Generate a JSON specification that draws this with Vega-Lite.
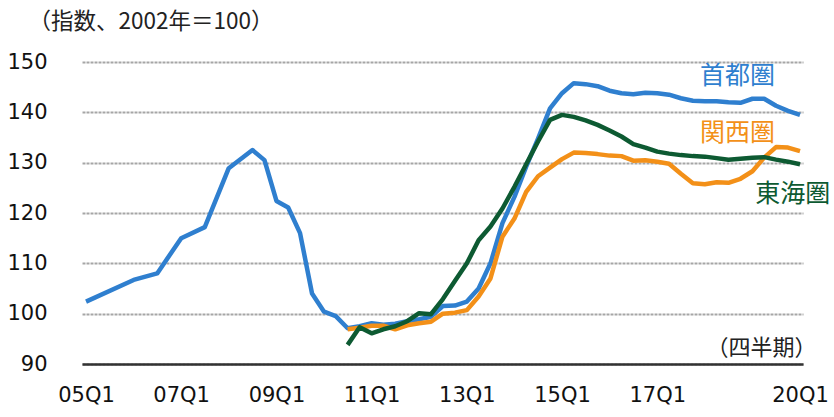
{
  "$schema": "https://vega.github.io/schema/vega-lite/v6.json",
  "width": 721,
  "height": 302,
  "autosize": "none",
  "padding": {"left": 82, "top": 62, "right": 31, "bottom": 53},
  "background": "white",
  "config": {"view": {"stroke": null}},
  "datasets": {
    "series": [
      {"region": "首都圏", "date": "2005-01-01", "value": 102.4},
      {"region": "首都圏", "date": "2006-01-01", "value": 106.7},
      {"region": "首都圏", "date": "2006-07-01", "value": 108.0},
      {"region": "首都圏", "date": "2007-01-01", "value": 115.0},
      {"region": "首都圏", "date": "2007-07-01", "value": 117.2},
      {"region": "首都圏", "date": "2008-01-01", "value": 128.9},
      {"region": "首都圏", "date": "2008-07-01", "value": 132.5},
      {"region": "首都圏", "date": "2008-10-01", "value": 130.5},
      {"region": "首都圏", "date": "2009-01-01", "value": 122.4},
      {"region": "首都圏", "date": "2009-04-01", "value": 121.1},
      {"region": "首都圏", "date": "2009-07-01", "value": 116.0},
      {"region": "首都圏", "date": "2009-10-01", "value": 104.0},
      {"region": "首都圏", "date": "2010-01-01", "value": 100.4},
      {"region": "首都圏", "date": "2010-04-01", "value": 99.5},
      {"region": "首都圏", "date": "2010-07-01", "value": 97.1},
      {"region": "首都圏", "date": "2010-10-01", "value": 97.5},
      {"region": "首都圏", "date": "2011-01-01", "value": 98.1},
      {"region": "首都圏", "date": "2011-04-01", "value": 97.8},
      {"region": "首都圏", "date": "2011-07-01", "value": 98.0},
      {"region": "首都圏", "date": "2011-10-01", "value": 98.5},
      {"region": "首都圏", "date": "2012-01-01", "value": 98.9},
      {"region": "首都圏", "date": "2012-04-01", "value": 99.4},
      {"region": "首都圏", "date": "2012-07-01", "value": 101.5},
      {"region": "首都圏", "date": "2012-10-01", "value": 101.6},
      {"region": "首都圏", "date": "2013-01-01", "value": 102.4},
      {"region": "首都圏", "date": "2013-04-01", "value": 105.0},
      {"region": "首都圏", "date": "2013-07-01", "value": 110.0},
      {"region": "首都圏", "date": "2013-10-01", "value": 118.0},
      {"region": "首都圏", "date": "2014-01-01", "value": 123.2},
      {"region": "首都圏", "date": "2014-04-01", "value": 129.2},
      {"region": "首都圏", "date": "2014-07-01", "value": 134.8},
      {"region": "首都圏", "date": "2014-10-01", "value": 140.8},
      {"region": "首都圏", "date": "2015-01-01", "value": 143.8},
      {"region": "首都圏", "date": "2015-04-01", "value": 145.8},
      {"region": "首都圏", "date": "2015-07-01", "value": 145.6},
      {"region": "首都圏", "date": "2015-10-01", "value": 145.2},
      {"region": "首都圏", "date": "2016-01-01", "value": 144.3},
      {"region": "首都圏", "date": "2016-04-01", "value": 143.8},
      {"region": "首都圏", "date": "2016-07-01", "value": 143.6},
      {"region": "首都圏", "date": "2016-10-01", "value": 143.9},
      {"region": "首都圏", "date": "2017-01-01", "value": 143.8},
      {"region": "首都圏", "date": "2017-04-01", "value": 143.5},
      {"region": "首都圏", "date": "2017-07-01", "value": 142.8},
      {"region": "首都圏", "date": "2017-10-01", "value": 142.3},
      {"region": "首都圏", "date": "2018-01-01", "value": 142.2},
      {"region": "首都圏", "date": "2018-04-01", "value": 142.2},
      {"region": "首都圏", "date": "2018-07-01", "value": 142.0},
      {"region": "首都圏", "date": "2018-10-01", "value": 141.9},
      {"region": "首都圏", "date": "2019-01-01", "value": 142.7},
      {"region": "首都圏", "date": "2019-04-01", "value": 142.7},
      {"region": "首都圏", "date": "2019-07-01", "value": 141.3},
      {"region": "首都圏", "date": "2019-10-01", "value": 140.3},
      {"region": "首都圏", "date": "2020-01-01", "value": 139.5},
      {"region": "関西圏", "date": "2010-07-01", "value": 96.9},
      {"region": "関西圏", "date": "2010-10-01", "value": 97.2},
      {"region": "関西圏", "date": "2011-01-01", "value": 97.6},
      {"region": "関西圏", "date": "2011-04-01", "value": 97.6},
      {"region": "関西圏", "date": "2011-07-01", "value": 96.9},
      {"region": "関西圏", "date": "2011-10-01", "value": 97.7},
      {"region": "関西圏", "date": "2012-01-01", "value": 98.1},
      {"region": "関西圏", "date": "2012-04-01", "value": 98.4},
      {"region": "関西圏", "date": "2012-07-01", "value": 100.0},
      {"region": "関西圏", "date": "2012-10-01", "value": 100.2},
      {"region": "関西圏", "date": "2013-01-01", "value": 100.7},
      {"region": "関西圏", "date": "2013-04-01", "value": 103.4},
      {"region": "関西圏", "date": "2013-07-01", "value": 107.0},
      {"region": "関西圏", "date": "2013-10-01", "value": 115.3},
      {"region": "関西圏", "date": "2014-01-01", "value": 118.9},
      {"region": "関西圏", "date": "2014-04-01", "value": 124.2},
      {"region": "関西圏", "date": "2014-07-01", "value": 127.3},
      {"region": "関西圏", "date": "2014-10-01", "value": 129.0},
      {"region": "関西圏", "date": "2015-01-01", "value": 130.7},
      {"region": "関西圏", "date": "2015-04-01", "value": 132.0},
      {"region": "関西圏", "date": "2015-07-01", "value": 131.9},
      {"region": "関西圏", "date": "2015-10-01", "value": 131.7},
      {"region": "関西圏", "date": "2016-01-01", "value": 131.4},
      {"region": "関西圏", "date": "2016-04-01", "value": 131.3},
      {"region": "関西圏", "date": "2016-07-01", "value": 130.4},
      {"region": "関西圏", "date": "2016-10-01", "value": 130.5},
      {"region": "関西圏", "date": "2017-01-01", "value": 130.2},
      {"region": "関西圏", "date": "2017-04-01", "value": 129.8},
      {"region": "関西圏", "date": "2017-07-01", "value": 127.8},
      {"region": "関西圏", "date": "2017-10-01", "value": 125.9},
      {"region": "関西圏", "date": "2018-01-01", "value": 125.7},
      {"region": "関西圏", "date": "2018-04-01", "value": 126.1},
      {"region": "関西圏", "date": "2018-07-01", "value": 126.0},
      {"region": "関西圏", "date": "2018-10-01", "value": 126.8},
      {"region": "関西圏", "date": "2019-01-01", "value": 128.3},
      {"region": "関西圏", "date": "2019-04-01", "value": 131.0},
      {"region": "関西圏", "date": "2019-07-01", "value": 133.1},
      {"region": "関西圏", "date": "2019-10-01", "value": 133.0},
      {"region": "関西圏", "date": "2020-01-01", "value": 132.3},
      {"region": "東海圏", "date": "2010-07-01", "value": 93.8},
      {"region": "東海圏", "date": "2010-10-01", "value": 97.3},
      {"region": "東海圏", "date": "2011-01-01", "value": 96.1},
      {"region": "東海圏", "date": "2011-04-01", "value": 96.9},
      {"region": "東海圏", "date": "2011-07-01", "value": 97.5},
      {"region": "東海圏", "date": "2011-10-01", "value": 98.5},
      {"region": "東海圏", "date": "2012-01-01", "value": 100.1},
      {"region": "東海圏", "date": "2012-04-01", "value": 99.9},
      {"region": "東海圏", "date": "2012-07-01", "value": 102.9},
      {"region": "東海圏", "date": "2012-10-01", "value": 106.5},
      {"region": "東海圏", "date": "2013-01-01", "value": 110.0},
      {"region": "東海圏", "date": "2013-04-01", "value": 114.6},
      {"region": "東海圏", "date": "2013-07-01", "value": 117.3},
      {"region": "東海圏", "date": "2013-10-01", "value": 120.9},
      {"region": "東海圏", "date": "2014-01-01", "value": 125.2},
      {"region": "東海圏", "date": "2014-04-01", "value": 129.7},
      {"region": "東海圏", "date": "2014-07-01", "value": 134.2},
      {"region": "東海圏", "date": "2014-10-01", "value": 138.5},
      {"region": "東海圏", "date": "2015-01-01", "value": 139.5},
      {"region": "東海圏", "date": "2015-04-01", "value": 139.1},
      {"region": "東海圏", "date": "2015-07-01", "value": 138.4},
      {"region": "東海圏", "date": "2015-10-01", "value": 137.5},
      {"region": "東海圏", "date": "2016-01-01", "value": 136.4},
      {"region": "東海圏", "date": "2016-04-01", "value": 135.2},
      {"region": "東海圏", "date": "2016-07-01", "value": 133.7},
      {"region": "東海圏", "date": "2016-10-01", "value": 133.0},
      {"region": "東海圏", "date": "2017-01-01", "value": 132.2},
      {"region": "東海圏", "date": "2017-04-01", "value": 131.8},
      {"region": "東海圏", "date": "2017-07-01", "value": 131.5},
      {"region": "東海圏", "date": "2017-10-01", "value": 131.3},
      {"region": "東海圏", "date": "2018-01-01", "value": 131.2},
      {"region": "東海圏", "date": "2018-04-01", "value": 130.9},
      {"region": "東海圏", "date": "2018-07-01", "value": 130.6},
      {"region": "東海圏", "date": "2018-10-01", "value": 130.8},
      {"region": "東海圏", "date": "2019-01-01", "value": 131.0},
      {"region": "東海圏", "date": "2019-04-01", "value": 131.1},
      {"region": "東海圏", "date": "2019-07-01", "value": 130.6},
      {"region": "東海圏", "date": "2019-10-01", "value": 130.2},
      {"region": "東海圏", "date": "2020-01-01", "value": 129.7}
    ],
    "labels": [
      {"region": "首都圏", "date": "2018-09-09", "value": 147.2},
      {"region": "関西圏", "date": "2018-09-09", "value": 135.9},
      {"region": "東海圏", "date": "2019-11-06", "value": 123.8}
    ]
  },
  "layer": [
    {
      "data": {"name": "series"},
      "mark": {"type": "line", "strokeWidth": 4.5, "strokeJoin": "round"},
      "encoding": {
        "x": {
          "field": "date",
          "type": "temporal",
          "scale": {"domain": [{"year": 2004, "month": 12, "date": 1}, {"year": 2020, "month": 1, "date": 24}]},
          "axis": {
            "title": "（四半期）",
            "titleFont": "Noto Sans CJK JP",
            "titleFontSize": 22,
            "titleFontWeight": "normal",
            "titleColor": "#222222",
            "titleAnchor": "end",
            "titleAlign": "right",
            "titleBaseline": "middle",
            "titleX": 734,
            "titleY": -17,
            "values": [
              {"year": 2005, "month": 1, "date": 1},
              {"year": 2007, "month": 1, "date": 1},
              {"year": 2009, "month": 1, "date": 1},
              {"year": 2011, "month": 1, "date": 1},
              {"year": 2013, "month": 1, "date": 1},
              {"year": 2015, "month": 1, "date": 1},
              {"year": 2017, "month": 1, "date": 1},
              {"year": 2020, "month": 1, "date": 1}
            ],
            "labelExpr": "timeFormat(datum.value, '%y') + 'Q1'",
            "labelFont": "DejaVu Sans",
            "labelFontSize": 21,
            "labelColor": "#111111",
            "labelPadding": 20,
            "labelFlush": false,
            "labelOverlap": false,
            "ticks": false,
            "grid": false,
            "domain": true,
            "domainColor": "#333333",
            "domainWidth": 2.5
          }
        },
        "y": {
          "field": "value",
          "type": "quantitative",
          "scale": {"domain": [90, 150], "nice": false, "zero": false},
          "axis": {
            "title": "（指数、2002年＝100）",
            "titleFont": "Noto Sans CJK JP",
            "titleFontSize": 22.5,
            "titleFontWeight": "normal",
            "titleColor": "#222222",
            "titleAngle": 0,
            "titleAlign": "left",
            "titleBaseline": "middle",
            "titleX": -54,
            "titleY": -41,
            "values": [90, 100, 110, 120, 130, 140, 150],
            "labelFont": "DejaVu Sans",
            "labelFontSize": 21,
            "labelColor": "#111111",
            "labelPadding": 35,
            "ticks": false,
            "domain": false,
            "grid": true,
            "gridColor": "#A6A6A6",
            "gridWidth": 2,
            "gridDash": [3, 1]
          }
        },
        "color": {
          "field": "region",
          "type": "nominal",
          "scale": {"domain": ["首都圏", "関西圏", "東海圏"], "range": ["#2F7FCF", "#F39018", "#0D5A32"]},
          "legend": null
        }
      }
    },
    {
      "data": {"name": "labels"},
      "mark": {"type": "text", "font": "Noto Sans CJK JP", "fontSize": 25, "align": "center", "baseline": "middle"},
      "encoding": {
        "x": {"field": "date", "type": "temporal"},
        "y": {"field": "value", "type": "quantitative"},
        "text": {"field": "region"},
        "color": {"field": "region", "type": "nominal", "legend": null}
      }
    }
  ]
}
